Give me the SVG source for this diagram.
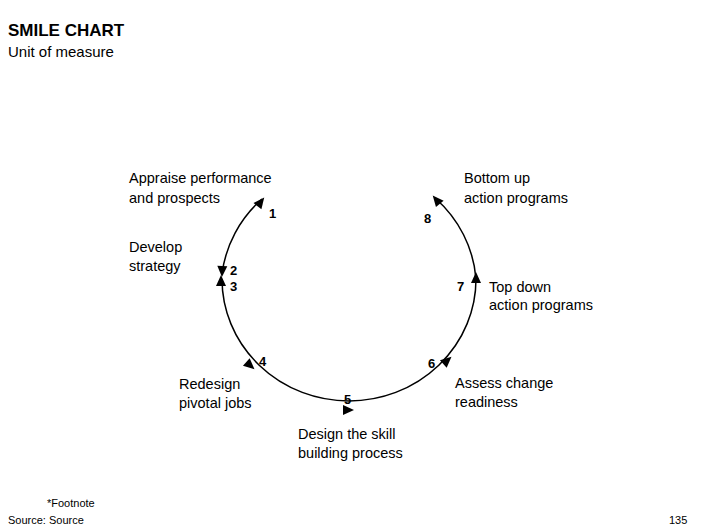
<svg xmlns="http://www.w3.org/2000/svg" xmlns:xlink="http://www.w3.org/1999/xlink" width="706" height="529" viewBox="0 0 706 529">
<style>
text{font-family:"Liberation Sans",Arial,sans-serif;fill:#000}
.l{font-size:14.5px}
.n{font-size:13px;font-weight:bold}
.f{font-size:11px}
.arc{fill:none;stroke:#000;stroke-width:1.5}
</style>
<defs><polygon id="ah" points="2,0 -9,-5 -9,5" fill="#000"/></defs>
<rect width="706" height="529" fill="#fff"/>
<text x="8" y="36" style="font-size:17px;font-weight:bold">SMILE CHART</text>
<text x="8" y="57" class="l" style="font-size:15px">Unit of measure</text>
<g id="connectors">
<path class="arc" d="M262,199 A127,122 0 0 0 222,274"/>
<path class="arc" d="M222,279 A127,122 0 0 0 476,279 A127,122 0 0 0 435,198"/>
<use xlink:href="#ah" transform="translate(263,199) rotate(-52)"/>
<use xlink:href="#ah" transform="translate(222,275) rotate(92)"/>
<use xlink:href="#ah" transform="translate(221,277) rotate(-90)"/>
<use xlink:href="#ah" transform="translate(253,368) rotate(42)"/>
<use xlink:href="#ah" transform="translate(352,410) rotate(0)"/>
<use xlink:href="#ah" transform="translate(450,358) rotate(-42)"/>
<use xlink:href="#ah" transform="translate(476,274) rotate(-90)"/>
<use xlink:href="#ah" transform="translate(434,197) rotate(-130)"/>
</g>
<g id="n1"><text x="129" y="183" class="l">Appraise performance</text><text x="129" y="203" class="l">and prospects</text><text x="269" y="218" class="n">1</text></g>
<g id="n2"><text x="129" y="252" class="l">Develop</text><text x="129" y="271" class="l">strategy</text><text x="230" y="275" class="n">2</text></g>
<g id="n3"><text x="230" y="291" class="n">3</text></g>
<g id="n4"><text x="179" y="389" class="l">Redesign</text><text x="179" y="408" class="l">pivotal jobs</text><text x="259" y="366" class="n">4</text></g>
<g id="n5"><text x="298" y="439" class="l">Design the skill</text><text x="298" y="458" class="l">building process</text><text x="344" y="404" class="n">5</text></g>
<g id="n6"><text x="455" y="388" class="l">Assess change</text><text x="455" y="407" class="l">readiness</text><text x="428" y="368" class="n">6</text></g>
<g id="n7"><text x="489" y="292" class="l">Top down</text><text x="489" y="310" class="l">action programs</text><text x="457" y="291" class="n">7</text></g>
<g id="n8"><text x="464" y="183" class="l">Bottom up</text><text x="464" y="203" class="l">action programs</text><text x="424" y="223" class="n">8</text></g>
<text x="47" y="507" class="f">*Footnote</text>
<text x="8" y="524" class="f">Source: Source</text>
<text x="669" y="524" class="f">135</text>
</svg>
